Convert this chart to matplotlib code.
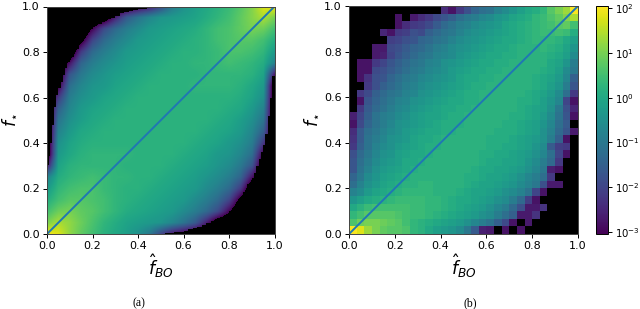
import numpy as np
import matplotlib
matplotlib.use("Agg")
from matplotlib import pyplot as plt
from matplotlib.colors import LogNorm, Normalize

B = -99  # empty bin, shows as black

ticks = [0.0, 0.2, 0.4, 0.6, 0.8, 1.0]

# panel (a): log10 density x10, coarse table, bottom row first
grid_a = [
    [20, 18, 12, 8, 5, 2, 0, -2, -5, -10, -20, -28, -32, -36, -40, -40, -40, -40, -40, -40, -40],
    [10, 14, 12, 9, 6, 3, 1, -1, -2, -3, -4, -7, -11, -16, -26, -38, -40, -40, -40, -40, -40],
    [5, 9, 10, 8, 7, 5, 3, 1, 0, -1, -2, -3, -6, -9, -13, -19, -30, -40, -40, -40, -40],
    [1, 5, 7, 7, 6, 5, 3, 2, 1, 0, -1, -2, -3, -6, -9, -13, -20, -34, -40, -40, -40],
    [-3, 3, 5, 6, 6, 4, 3, 2, 2, 1, 0, -1, -2, -3, -6, -9, -13, -22, -40, -40, -40],
    [-8, 1, 3, 4, 5, 4, 3, 3, 2, 2, 1, 0, -1, -2, -4, -6, -9, -14, -28, -40, -40],
    [-28, -1, 2, 3, 3, 3, 3, 2, 2, 2, 2, 1, 0, -1, -2, -4, -6, -10, -17, -38, -40],
    [-40, -3, 0, 2, 3, 3, 3, 3, 2, 2, 2, 2, 1, 0, -1, -3, -4, -7, -12, -32, -40],
    [-40, -5, -1, 1, 2, 2, 2, 2, 2, 2, 2, 2, 2, 1, 0, -1, -3, -5, -9, -22, -40],
    [-40, -8, -3, 0, 1, 2, 2, 2, 2, 2, 2, 2, 2, 2, 1, 0, -1, -3, -7, -15, -40],
    [-40, -11, -5, -2, 0, 1, 2, 2, 2, 2, 2, 2, 2, 2, 2, 1, 0, -2, -5, -11, -40],
    [-40, -15, -7, -3, -1, 0, 1, 2, 2, 2, 2, 2, 2, 2, 2, 2, 1, 0, -3, -8, -40],
    [-40, -22, -9, -5, -3, -1, 0, 1, 2, 2, 2, 2, 2, 2, 2, 2, 2, 1, -1, -5, -40],
    [-40, -32, -12, -7, -4, -3, -1, 0, 1, 2, 2, 2, 2, 3, 3, 3, 3, 2, 0, -3, -40],
    [-40, -38, -17, -10, -6, -4, -2, -1, 0, 1, 2, 2, 2, 2, 3, 3, 3, 3, 2, -1, -28],
    [-40, -40, -28, -14, -9, -6, -4, -2, -1, 0, 1, 2, 2, 3, 3, 4, 5, 4, 3, 1, -8],
    [-40, -40, -40, -22, -13, -9, -6, -3, -2, -1, 0, 1, 2, 2, 3, 4, 6, 6, 5, 3, -3],
    [-40, -40, -40, -34, -20, -13, -9, -6, -3, -2, -1, 0, 1, 2, 3, 5, 6, 7, 7, 5, 1],
    [-40, -40, -40, -40, -30, -19, -13, -9, -6, -3, -2, -1, 0, 1, 3, 5, 6, 8, 10, 9, 5],
    [-40, -40, -40, -40, -40, -38, -26, -16, -11, -7, -4, -3, -2, -1, 1, 3, 5, 8, 11, 14, 10],
    [-40, -40, -40, -40, -40, -40, -40, -36, -32, -28, -20, -10, -5, -2, 0, 2, 4, 7, 11, 18, 20],
]

# edge of the empty regions in panel (a)
upper_x = [0, .01, .02, .03, .04, .05, .06, .07, .08, .09, .10, .12, .14, .16, .18, .20, .22, .24, .26, .28, .30, .32, .34, .36, .38, .40, .44, .48]
upper_y = [.305, .40, .48, .56, .61, .64, .67, .70, .73, .755, .78, .815, .845, .875, .90, .915, .925, .935, .945, .95, .96, .97, .975, .98, .985, .99, .995, 1.0]
lower_x = [.52, .56, .60, .62, .64, .66, .68, .70, .72, .74, .76, .78, .80, .82, .84, .86, .88, .90, .91, .92, .93, .94, .95, .96, .97, .98, .99, 1.0]
lower_y = [0, .005, .01, .015, .02, .025, .03, .04, .05, .055, .065, .075, .085, .10, .125, .155, .185, .22, .245, .27, .30, .33, .36, .39, .44, .52, .60, .695]

# panel (b): log10 density x10, 30x30 bins, top row first
grid_b = [
    [B, B, B, B, B, B, B, B, B, B, B, B, -24, -28, -22, -18, -14, -12, -11, -8, -6, -4, -2, 0, 1, 3, 7, 10, 13, 20],
    [B, B, B, B, B, B, -28, B, -27, -24, -22, -19, -17, -15, -12, -10, -9, -7, -6, -4, -3, -1, 0, 1, 3, 4, 6, 8, 11, 14],
    [B, B, B, B, B, B, -28, -24, -22, -21, -19, -16, -13, -11, -9, -8, -6, -5, -4, -3, -1, 0, 1, 2, 3, 4, 5, 7, 8, 5],
    [B, B, B, B, -25, -28, -22, -21, -18, -19, -15, -13, -11, -10, -8, -6, -5, -4, -3, -2, -1, 0, 1, 2, 3, 4, 4, 5, 4, 1],
    [B, B, B, B, B, -21, -20, -18, -17, -14, -13, -11, -10, -8, -6, -5, -4, -3, -2, -1, 0, 0, 1, 2, 3, 3, 3, 2, 0, -2],
    [B, B, B, -27, -27, -19, -18, -16, -14, -13, -11, -9, -8, -6, -5, -4, -3, -2, -1, 0, 0, 1, 2, 2, 2, 3, 2, 1, -1, -4],
    [B, B, B, -27, -26, -20, -17, -15, -13, -11, -10, -8, -7, -6, -4, -3, -2, -1, 0, 0, 1, 1, 2, 2, 2, 2, 1, 0, -2, -6],
    [B, -28, -28, -22, -20, -17, -15, -13, -11, -10, -8, -7, -5, -4, -3, -2, -1, 0, 0, 1, 1, 2, 2, 2, 2, 2, 0, -1, -4, -9],
    [B, -28, -28, -19, -18, -16, -14, -12, -10, -9, -7, -6, -5, -3, -2, -1, 0, 0, 1, 1, 2, 2, 2, 2, 2, 1, 0, -2, -6, -10],
    [B, -28, -23, -18, -17, -14, -12, -10, -9, -7, -6, -5, -4, -3, -1, 0, 0, 1, 1, 2, 2, 2, 2, 2, 1, 0, -1, -3, -7, -15],
    [B, B, -22, -18, -15, -13, -11, -9, -8, -6, -5, -4, -3, -2, -1, 0, 1, 1, 2, 2, 2, 2, 2, 2, 1, 0, -2, -4, -9, -17],
    [B, -22, -19, -15, -13, -11, -10, -8, -7, -5, -4, -3, -2, -1, 0, 1, 1, 2, 2, 2, 2, 2, 2, 1, 0, -1, -3, -6, -12, -22],
    [B, -28, -17, -14, -12, -10, -8, -7, -5, -4, -3, -2, -1, 0, 0, 1, 1, 2, 2, 2, 2, 2, 1, 1, 0, -2, -4, -7, -20, -28],
    [B, -22, -16, -13, -11, -9, -7, -6, -4, -3, -2, -1, 0, 0, 1, 1, 2, 2, 2, 2, 2, 2, 1, 0, -1, -2, -5, -10, -18, -25],
    [-26, -20, -15, -11, -9, -8, -6, -5, -3, -2, -1, -1, 0, 1, 1, 2, 2, 2, 2, 2, 2, 1, 1, 0, -1, -3, -6, -11, -17, -28],
    [-28, -19, -14, -11, -9, -7, -5, -4, -3, -2, -1, 0, 1, 1, 1, 2, 2, 2, 2, 2, 1, 1, 0, -1, -2, -4, -7, -12, -16, B],
    [-24, -16, -12, -10, -8, -6, -5, -3, -2, -1, 0, 0, 1, 1, 2, 2, 2, 2, 2, 1, 1, 1, 0, -1, -2, -5, -8, -13, -17, -27],
    [-23, -16, -11, -9, -7, -5, -4, -3, -1, 0, 0, 1, 2, 2, 2, 2, 2, 2, 1, 1, 1, 0, -1, -2, -3, -5, -9, -15, -28, B],
    [-22, -15, -11, -8, -6, -5, -3, -2, -1, 0, 1, 1, 2, 2, 2, 2, 2, 2, 1, 1, 0, 0, -1, -2, -4, -6, -16, -21, -22, B],
    [-18, -13, -10, -7, -5, -4, -2, -1, 0, 0, 1, 2, 2, 2, 2, 2, 2, 1, 1, 0, 0, -1, -2, -3, -5, -7, -12, -20, -28, B],
    [-17, -12, -9, -6, -4, -3, -2, 0, 0, 1, 2, 2, 2, 2, 2, 2, 2, 1, 0, 0, -1, -1, -2, -4, -6, -9, -13, -22, B, B],
    [-17, -11, -8, -5, -3, -2, -1, 0, 1, 2, 2, 2, 2, 2, 2, 2, 1, 0, 0, -1, -1, -2, -3, -5, -7, -10, -26, -28, B, B],
    [-14, -10, -6, -4, -2, -1, 0, 1, 2, 2, 2, 2, 2, 2, 2, 1, 1, 0, -1, -1, -2, -3, -5, -7, -9, -12, -22, B, B, B],
    [-12, -8, -5, -3, -1, 0, 1, 2, 2, 3, 3, 2, 2, 2, 2, 1, 0, -1, -1, -2, -3, -4, -6, -8, -10, -18, -27, -27, B, B],
    [-8, -6, -3, -1, 0, 1, 2, 3, 3, 3, 3, 2, 2, 2, 1, 0, -1, -1, -2, -3, -5, -6, -8, -11, -20, -28, B, B, B, B],
    [-4, -2, 0, 1, 2, 3, 4, 4, 4, 4, 3, 3, 2, 1, 0, 0, -1, -2, -3, -5, -6, -9, -13, -21, -28, B, B, B, B, B],
    [0, 2, 4, 5, 5, 5, 5, 5, 4, 4, 3, 3, 2, 1, 0, -1, -2, -3, -5, -7, -9, -13, -18, -27, -27, -23, B, B, B, B],
    [3, 5, 7, 7, 7, 7, 6, 5, 4, 4, 3, 2, 1, 0, -1, -2, -3, -5, -6, -9, -12, -15, -27, -27, -23, B, B, B, B, B],
    [6, 9, 10, 10, 9, 8, 7, 5, 3, 2, 1, 0, -1, -2, -3, -5, -7, -9, -11, -15, -19, -28, B, -27, B, B, B, B, B, B],
    [20, 18, 13, 10, 8, 7, 7, 6, 3, 2, 0, -2, -3, -4, -6, -10, -16, -26, -27, B, -28, B, -28, B, B, B, B, B, B, B],
]

cmap = plt.get_cmap("viridis").with_extremes(under="black")
log_lo, log_hi = -3.05, 2.05

W, H = 640.0, 309.0


def px_axes(fig, x0, x1, y_top, y_bot):
    return fig.add_axes([x0 / W, 1 - y_bot / H, (x1 - x0) / W, (y_bot - y_top) / H])


def style(ax):
    ax.plot([0, 1], [0, 1], color="#1f77b4", lw=1.4)
    ax.set_xlim(0, 1)
    ax.set_ylim(0, 1)
    ax.set_xticks(ticks)
    ax.set_yticks(ticks)
    ax.tick_params(labelsize=8, length=2.8, width=0.7, pad=2.5)
    ax.set_xlabel(r"$\hat{f}_{BO}$", fontsize=12.5, labelpad=1)
    ax.set_ylabel(r"$f_{\star}$", fontsize=12.5, labelpad=2)
    for s in ax.spines.values():
        s.set_linewidth(0.7)
        s.set_color("#444444")


fig = plt.figure(figsize=(6.4, 3.09), dpi=100)

# (a)
ax_a = px_axes(fig, 47, 274.5, 6.5, 234)
ax_a.imshow(
    np.array(grid_a, dtype=float) / 10,
    origin="lower",
    extent=(-0.025, 1.025, -0.025, 1.025),
    cmap=cmap,
    norm=Normalize(log_lo, log_hi),
    interpolation="bilinear",
    interpolation_stage="data",
    aspect="auto",
)
ax_a.fill_between(upper_x, upper_y, 1, step="post", color="black", lw=0)
ax_a.fill_between(lower_x, lower_y, 0, step="pre", color="black", lw=0)
style(ax_a)

# (b)
ax_b = px_axes(fig, 349, 578, 6, 234)
edges = np.linspace(0, 1, 31)
values_b = 10.0 ** (np.array(grid_b, dtype=float)[::-1] / 10)
mesh = ax_b.pcolormesh(
    edges,
    edges,
    values_b,
    cmap=cmap,
    norm=LogNorm(10**log_lo, 10**log_hi),
    antialiased=True,
    linewidth=0,
)
style(ax_b)

# colorbar
cax = px_axes(fig, 596, 608, 6, 234)
cbar = fig.colorbar(mesh, cax=cax)
cbar.ax.minorticks_off()
cbar.set_ticks([1e-3, 1e-2, 1e-1, 1e0, 1e1, 1e2])
cbar.ax.tick_params(labelsize=7.3, length=2.8, width=0.7, pad=2)
cbar.outline.set_linewidth(0.7)

fig.text(139 / W, 1 - 303 / H, "(a)", family="Liberation Serif", fontsize=8.5, ha="center", va="center")
fig.text(470 / W, 1 - 303 / H, "(b)", family="Liberation Serif", fontsize=8.5, ha="center", va="center")

fig.savefig("out.png", dpi=100)
